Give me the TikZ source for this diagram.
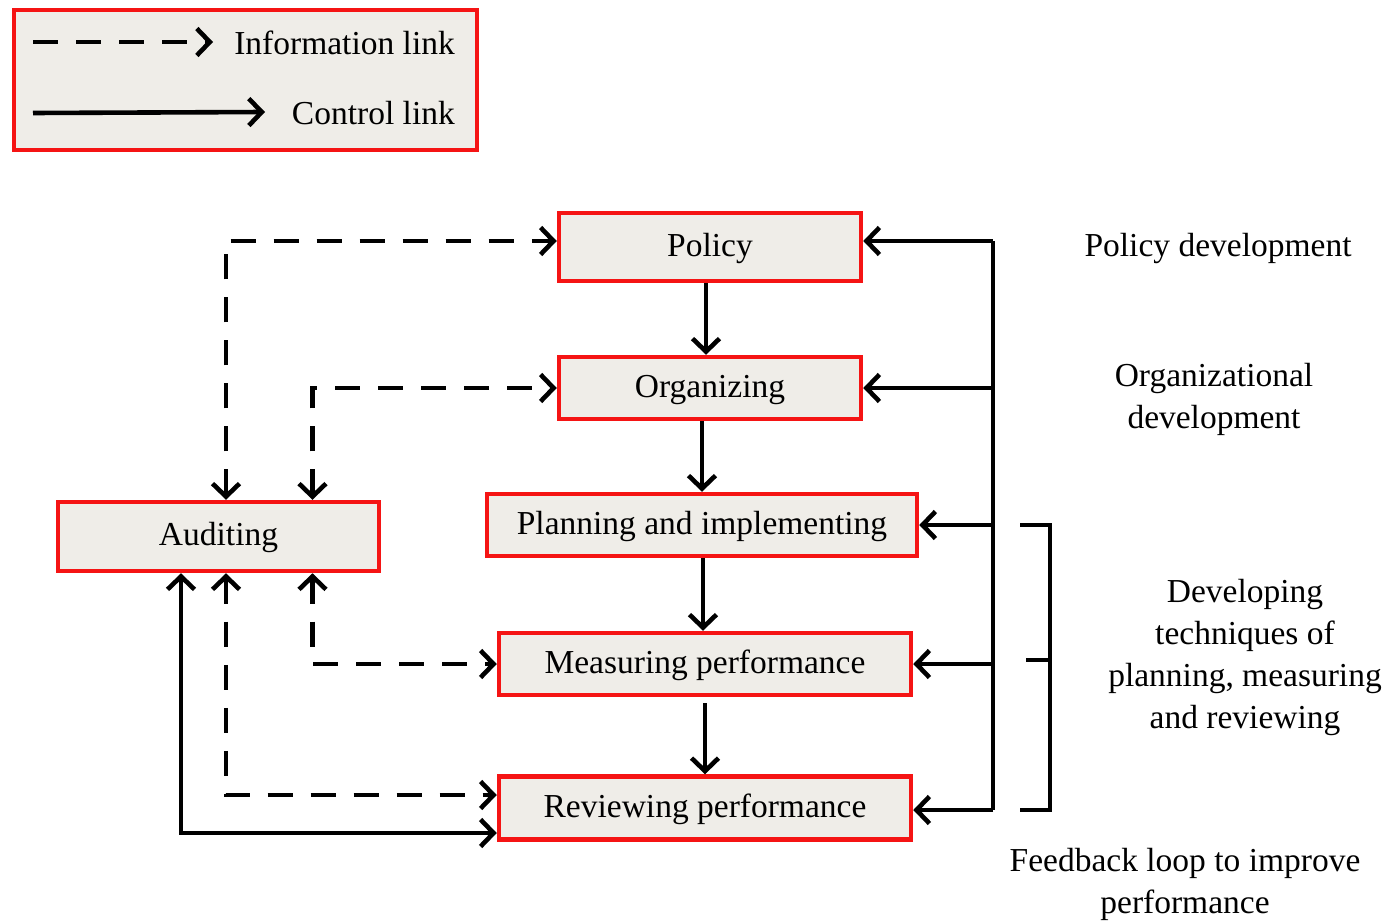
\documentclass[tikz,border=0pt]{standalone}
\usepackage{fontspec}
\setmainfont{Liberation Serif}
\usetikzlibrary{arrows.meta}
\definecolor{boxfill}{RGB}{239,237,232}
\definecolor{boxred}{RGB}{245,20,20}
\tikzset{
  x=1pt, y=-1pt,
  every node/.style={font=\fontsize{33.5}{42}\selectfont, text=black},
  stepbox/.style={draw=boxred, line width=4.5pt, fill=boxfill, rectangle, inner sep=0pt, text height=25pt, text depth=7pt},
  link/.style={line width=4.6pt, draw=black, arrows={-Straight Barb[length=13pt,width=27pt]}},
  twoway/.style={line width=4.6pt, draw=black, arrows={Straight Barb[length=13pt,width=27pt]-Straight Barb[length=13pt,width=27pt]}},
  info/.style={dash pattern=on 25pt off 18pt},
  lab/.style={align=center, inner sep=0pt},
}
\begin{document}
\begin{tikzpicture}
\useasboundingbox (0,0) rectangle (1386,923);
% legend
\node[stepbox, minimum width=463pt, minimum height=140pt] (legend) at (245.5,80) {};
\coordinate (l1s) at (33,42);
\coordinate (l1e) at (213,42);
\coordinate (l2s) at (33,113);
\coordinate (l2e) at (265,112);
\draw[link, info] (l1s) -- (l1e);
\draw[link] (l2s) -- (l2e);
\node[lab, anchor=east] (tinfo) at (455,43) {Information link};
\node[lab, anchor=east] (tctrl) at (455,113) {Control link};
% main boxes
\node[stepbox, minimum width=302pt, minimum height=68pt] (policy) at (710,247) {Policy};
\node[stepbox, minimum width=302pt, minimum height=62pt] (org) at (710,388) {Organizing};
\node[stepbox, minimum width=430pt, minimum height=62pt] (plan) at (702,525) {Planning and implementing};
\node[stepbox, minimum width=412pt, minimum height=62pt] (meas) at (705,664) {Measuring performance};
\node[stepbox, minimum width=412pt, minimum height=63pt] (rev) at (705,808) {Reviewing performance};
\node[stepbox, minimum width=321pt, minimum height=69pt] (aud) at (218.5,536.5) {Auditing};
% downward control links
\draw[link] ([xshift=-4]policy.south) -- ([xshift=-4]policy.south |- org.north);
\draw[link] (org.south -| plan.north) -- (plan.north);
\draw[link] ([xshift=1]plan.south) -- ([xshift=1]plan.south |- meas.north);
\draw[link] ([yshift=-6]meas.south) -- (rev.north);
% feedback loop on the right
\coordinate (fbtop) at (993,241);
\coordinate (fbbot) at (993,810);
\draw[line width=4.6pt] (fbtop) -- (fbbot);
\draw[link] (fbtop) -- (fbtop -| policy.east);
\draw[link] (fbtop |- org.east) -- (org.east);
\draw[link] (fbtop |- plan.east) -- (plan.east);
\draw[link] (fbtop |- meas.east) -- (meas.east);
\draw[link] (fbbot) -- (fbbot -| rev.east);
% bracket
\coordinate (b1) at (1020,525);
\coordinate (b2) at (1050,525);
\coordinate (b3) at (1050,810);
\coordinate (b4) at (1020,810);
\coordinate (bm) at (1026,660);
\draw[line width=4.6pt] (b1) -- (b2) -- (b3) -- (b4);
\draw[line width=4.6pt] (bm) -- (bm -| b2);
% auditing links
\draw[twoway, info] ([xshift=7.5]aud.north) |- ([yshift=6]policy.west);
\draw[twoway, info] ([xshift=94]aud.north) |- (org.west);
\draw[twoway, info] ([xshift=94]aud.south) |- (meas.west);
\draw[twoway, info] ([xshift=7.5]aud.south) |- ([yshift=13]rev.west);
\draw[twoway] ([xshift=-37.5]aud.south) |- ([yshift=-25]rev.west);
% side labels
\node[lab] (lpol) at (1218,248) {Policy development};
\node[lab] (lorg) at (1214,399) {Organizational\\development};
\node[lab] (ldev) at (1245,657) {Developing\\techniques of\\planning, measuring\\and reviewing};
\node[lab] (lfb) at (1185,884) {Feedback loop to improve\\performance};
\end{tikzpicture}
\end{document}
